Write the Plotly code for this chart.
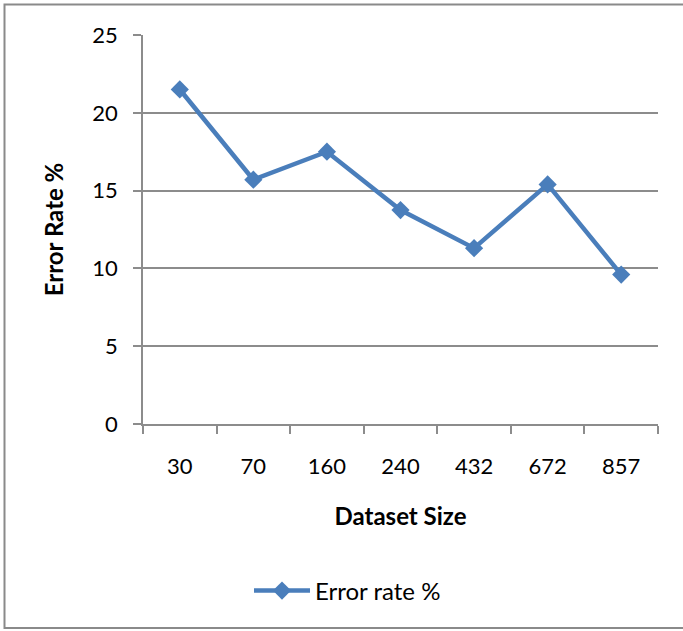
import plotly.graph_objects as go

# Error rate measured for each dataset size
dataset_sizes = ["30", "70", "160", "240", "432", "672", "857"]
error_rate = [21.5, 15.7, 17.5, 13.75, 11.3, 15.4, 9.6]

W, H = 683, 631
L, R, T, B = 143, 25, 35, 207
plot_w = W - L - R
plot_h = H - T - B

def px_x(px):
    return (px - L) / plot_w

def px_y(py):
    return (H - B - py) / plot_h

line_color = "#4A7EBB"
grid_color = "#8C8C8C"
font_family = "Lato, 'Open Sans', sans-serif"

fig = go.Figure()
fig.add_trace(go.Scatter(
    x=dataset_sizes,
    y=error_rate,
    mode="lines+markers",
    name="Error rate %",
    line=dict(color=line_color, width=4.5),
    marker=dict(symbol="diamond", size=14, color=line_color),
))

fig.update_layout(
    width=W,
    height=H,
    margin=dict(l=L, r=R, t=T, b=B),
    paper_bgcolor="white",
    plot_bgcolor="white",
    font=dict(family=font_family, size=22, color="black"),
    showlegend=True,
    legend=dict(
        orientation="h",
        x=px_x(249),
        y=px_y(591),
        xanchor="left",
        yanchor="middle",
        itemwidth=56,
        font=dict(size=24),
        bgcolor="rgba(0,0,0,0)",
    ),
    xaxis=dict(
        type="category",
        showgrid=False,
        showline=True,
        linecolor=grid_color,
        linewidth=1.5,
        ticks="outside",
        tickson="boundaries",
        ticklen=8,
        tickcolor=grid_color,
        tickwidth=1.5,
        ticklabelstandoff=22,
        tickfont=dict(size=22),
        title=dict(text="<b>Dataset Size</b>", standoff=30, font=dict(size=24)),
        range=[-0.5, 6.5],
    ),
    yaxis=dict(
        range=[0, 25],
        dtick=5,
        showgrid=True,
        gridcolor=grid_color,
        gridwidth=1.5,
        showline=True,
        linecolor=grid_color,
        linewidth=1.5,
        ticks="outside",
        ticklen=8,
        tickcolor=grid_color,
        tickwidth=1.5,
        ticklabelstandoff=11,
        tickfont=dict(size=22),
        zeroline=False,
        title=dict(text="<b>Error Rate %</b>", standoff=22, font=dict(size=24)),
    ),
    shapes=[dict(
        type="rect",
        xref="paper", yref="paper",
        x0=px_x(4.5), x1=px_x(700),
        y0=px_y(628), y1=px_y(4.5),
        line=dict(color="#8A8A8A", width=2),
        layer="below",
    )],
)

fig.write_html("out.html")
